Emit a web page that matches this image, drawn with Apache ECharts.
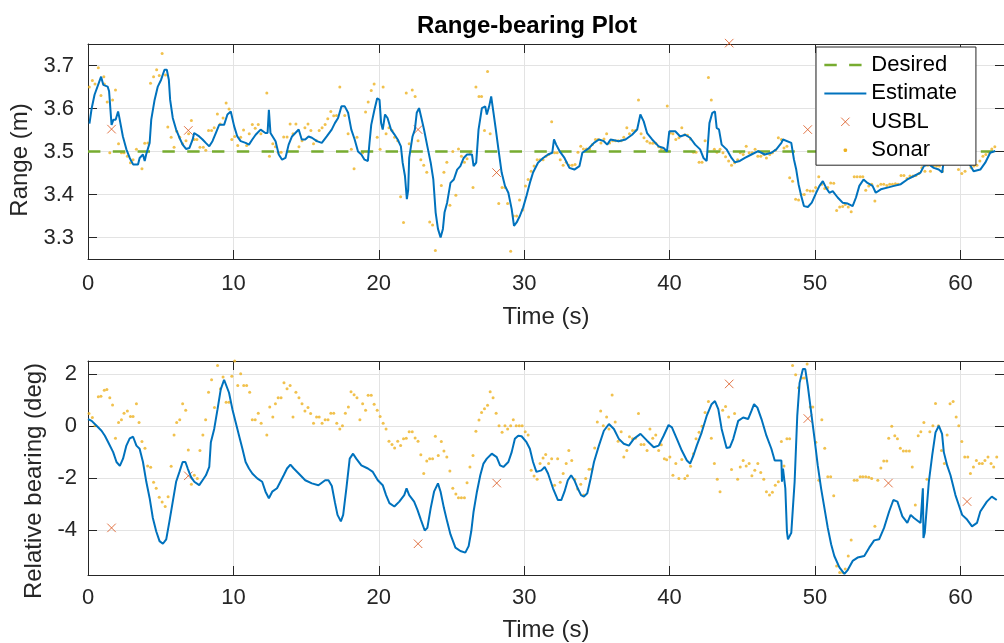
<!DOCTYPE html>
<html><head><meta charset="utf-8">
<script src="https://cdn.jsdelivr.net/npm/echarts@6/dist/echarts.min.js"></script>
<style>html,body{margin:0;padding:0;background:#fff}#c{width:1004px;height:643px}</style>
</head><body><div id="c"></div><script>
// ---------- data ----------
const titleText = 'Range-bearing Plot';
const xLabel = 'Time (s)';
const rangeLabel = 'Range (m)';
const bearingLabel = 'Relative bearing (deg)';
const seriesNames = ['Desired', 'Estimate', 'USBL', 'Sonar'];
const timeRange = [0, 63];
const rangeLimits = [3.25, 3.75];
const bearingLimits = [-5.72, 2.5];
const desiredRange = 3.5;

const rangeEstimate = [[0.1,3.565],[0.25,3.6],[0.45,3.632],[0.9,3.674],[1.05,3.655],[1.35,3.651],[1.45,3.64],[1.62,3.562],[1.75,3.574],[1.9,3.574],[2.07,3.593],[2.15,3.58],[2.4,3.535],[2.64,3.505],[2.87,3.485],[3.1,3.47],[3.44,3.47],[3.55,3.485],[3.78,3.493],[3.9,3.478],[4.0,3.493],[4.24,3.52],[4.35,3.574],[4.58,3.62],[4.8,3.651],[5.03,3.667],[5.26,3.69],[5.42,3.69],[5.56,3.667],[5.65,3.62],[5.83,3.578],[6.06,3.551],[6.29,3.532],[6.51,3.516],[6.74,3.506],[6.97,3.508],[7.2,3.528],[7.3,3.543],[7.65,3.535],[7.88,3.528],[8.1,3.52],[8.34,3.512],[8.56,3.524],[8.79,3.543],[9.02,3.562],[9.36,3.562],[9.59,3.586],[9.82,3.593],[9.93,3.59],[10.05,3.559],[10.27,3.535],[10.5,3.524],[10.84,3.52],[11.07,3.516],[11.3,3.528],[11.53,3.539],[11.87,3.551],[12.2,3.543],[12.35,3.543],[12.44,3.597],[12.52,3.597],[12.55,3.543],[12.9,3.524],[13.12,3.493],[13.35,3.481],[13.58,3.485],[13.8,3.516],[14.03,3.535],[14.49,3.551],[14.7,3.528],[14.94,3.528],[15.17,3.535],[15.4,3.532],[15.74,3.524],[16.08,3.52],[16.42,3.535],[16.76,3.551],[16.98,3.566],[17.2,3.578],[17.43,3.605],[17.66,3.605],[17.89,3.59],[18.11,3.551],[18.34,3.528],[18.57,3.5],[18.8,3.493],[19.02,3.481],[19.25,3.478],[19.36,3.52],[19.48,3.562],[19.7,3.597],[19.89,3.624],[20.05,3.62],[20.16,3.566],[20.27,3.551],[20.43,3.586],[20.6,3.578],[20.84,3.551],[21.07,3.54],[21.3,3.528],[21.52,3.512],[21.64,3.474],[21.8,3.443],[21.93,3.389],[22.02,3.41],[22.09,3.485],[22.32,3.535],[22.48,3.551],[22.61,3.59],[22.77,3.601],[22.93,3.578],[23.11,3.551],[23.34,3.512],[23.57,3.474],[23.75,3.435],[23.91,3.358],[24.07,3.32],[24.25,3.3],[24.41,3.32],[24.52,3.358],[24.7,3.381],[24.93,3.427],[25.16,3.435],[25.39,3.458],[25.61,3.466],[25.84,3.485],[26.07,3.493],[26.41,3.493],[26.52,3.466],[26.7,3.474],[26.86,3.551],[27.09,3.601],[27.32,3.605],[27.43,3.586],[27.59,3.605],[27.73,3.628],[27.89,3.59],[28.05,3.551],[28.23,3.505],[28.45,3.451],[28.68,3.42],[28.91,3.404],[29.14,3.366],[29.3,3.327],[29.48,3.335],[29.7,3.35],[29.93,3.37],[30.16,3.397],[30.39,3.427],[30.61,3.451],[30.95,3.474],[31.3,3.485],[31.64,3.493],[31.93,3.497],[32.05,3.528],[32.2,3.516],[32.43,3.501],[32.77,3.485],[33.11,3.462],[33.45,3.458],[33.8,3.466],[34.0,3.497],[34.46,3.508],[34.8,3.52],[35.14,3.528],[35.48,3.524],[35.71,3.516],[35.94,3.528],[36.5,3.524],[36.97,3.528],[37.42,3.539],[37.77,3.551],[37.99,3.586],[38.22,3.57],[38.45,3.543],[38.8,3.528],[39.25,3.512],[39.59,3.508],[39.82,3.5],[39.98,3.547],[40.39,3.547],[40.73,3.535],[41.07,3.539],[41.41,3.532],[41.76,3.516],[42.1,3.505],[42.33,3.485],[42.55,3.478],[42.74,3.566],[42.94,3.59],[43.12,3.593],[43.24,3.555],[43.4,3.551],[43.58,3.516],[43.92,3.505],[44.26,3.485],[44.49,3.475],[44.83,3.478],[45.18,3.485],[45.63,3.493],[46.09,3.501],[46.55,3.493],[47.0,3.497],[47.34,3.505],[47.69,3.52],[47.8,3.528],[48.37,3.52],[48.55,3.482],[48.71,3.458],[48.87,3.424],[49.05,3.397],[49.24,3.373],[49.51,3.371],[49.78,3.381],[50.08,3.404],[50.31,3.42],[50.54,3.431],[50.76,3.416],[50.99,3.404],[51.22,3.408],[51.56,3.393],[51.9,3.381],[52.25,3.379],[52.59,3.373],[52.82,3.393],[53.05,3.42],[53.34,3.435],[53.61,3.427],[53.96,3.42],[54.18,3.404],[54.53,3.412],[54.98,3.416],[55.44,3.42],[55.9,3.424],[56.35,3.435],[56.81,3.443],[57.26,3.451],[57.49,3.466],[57.83,3.47],[58.17,3.462],[58.51,3.458],[58.75,3.451],[58.86,3.48],[59.5,3.49],[60.2,3.49],[60.57,3.474],[60.91,3.454],[61.37,3.458],[61.71,3.474],[62.05,3.497],[62.4,3.501]];

const rangeUsbl = [[1.62,3.552],[6.9,3.549],[22.7,3.551],[28.1,3.451],[44.1,3.752],[49.5,3.551],[55.05,3.62],[60.5,3.651]];

const rangeSonar = [[0.09,3.65],[0.3,3.665],[0.48,3.657],[0.71,3.695],[0.89,3.63],[1.09,3.674],[1.12,3.657],[1.32,3.615],[1.5,3.497],[1.69,3.62],[1.89,3.643],[2.1,3.518],[2.3,3.497],[2.48,3.497],[2.71,3.489],[2.92,3.474],[3.1,3.481],[3.33,3.505],[3.71,3.46],[3.9,3.519],[4.12,3.52],[4.3,3.659],[4.51,3.674],[4.72,3.69],[4.9,3.677],[5.1,3.728],[5.33,3.678],[5.49,3.557],[5.72,3.533],[5.92,3.51],[6.1,3.547],[6.31,3.533],[6.51,3.518],[6.74,3.525],[6.92,3.541],[7.11,3.572],[7.31,3.528],[7.49,3.528],[7.7,3.51],[7.93,3.51],[8.1,3.503],[8.29,3.549],[8.5,3.549],[8.68,3.555],[8.9,3.587],[9.09,3.564],[9.29,3.578],[9.5,3.613],[9.7,3.599],[9.89,3.528],[10.09,3.535],[10.3,3.514],[10.5,3.533],[10.7,3.55],[10.91,3.514],[11.09,3.541],[11.3,3.563],[11.5,3.554],[11.71,3.563],[11.89,3.541],[12.3,3.636],[12.48,3.489],[12.71,3.518],[12.89,3.511],[13.08,3.498],[13.28,3.498],[13.46,3.534],[13.69,3.534],[13.9,3.564],[14.1,3.541],[14.3,3.564],[14.51,3.511],[14.72,3.525],[14.92,3.555],[15.13,3.564],[15.33,3.549],[15.51,3.518],[15.72,3.525],[15.9,3.549],[16.1,3.555],[16.31,3.563],[16.49,3.576],[16.7,3.593],[16.9,3.583],[17.09,3.584],[17.32,3.65],[17.66,3.584],[17.89,3.541],[18.11,3.505],[18.3,3.46],[18.5,3.533],[18.89,3.497],[19.09,3.592],[19.27,3.615],[19.48,3.642],[19.68,3.657],[19.89,3.533],[20.09,3.505],[20.3,3.65],[20.5,3.541],[20.7,3.555],[20.91,3.549],[21.09,3.533],[21.3,3.525],[21.5,3.395],[21.7,3.335],[21.89,3.636],[22.09,3.518],[22.3,3.643],[22.5,3.628],[22.7,3.525],[22.89,3.481],[23.09,3.468],[23.3,3.452],[23.5,3.336],[23.7,3.329],[23.89,3.27],[24.3,3.421],[24.48,3.452],[24.68,3.475],[24.89,3.375],[25.09,3.5],[25.3,3.398],[25.48,3.506],[25.68,3.489],[25.89,3.475],[26.07,3.483],[26.27,3.497],[26.48,3.416],[26.68,3.65],[26.89,3.628],[27.07,3.628],[27.27,3.549],[27.48,3.686],[27.66,3.541],[28.25,3.379],[28.48,3.416],[28.68,3.416],[28.86,3.379],[29.07,3.268],[29.25,3.35],[29.48,3.35],[29.68,3.387],[29.89,3.364],[30.09,3.42],[30.27,3.435],[30.48,3.454],[30.68,3.466],[30.89,3.481],[31.09,3.481],[31.3,3.481],[31.5,3.489],[31.68,3.493],[31.89,3.569],[32.09,3.497],[32.27,3.497],[32.48,3.481],[32.68,3.468],[32.89,3.475],[33.09,3.468],[33.3,3.468],[33.5,3.47],[33.7,3.498],[33.89,3.512],[34.07,3.506],[34.28,3.506],[34.5,3.506],[34.69,3.516],[34.9,3.528],[35.08,3.528],[35.28,3.52],[35.49,3.529],[35.67,3.541],[35.87,3.52],[36.08,3.525],[36.28,3.525],[36.47,3.525],[36.67,3.525],[36.85,3.533],[37.06,3.555],[37.24,3.541],[37.45,3.549],[37.65,3.549],[37.86,3.62],[38.04,3.541],[38.24,3.532],[38.45,3.524],[38.65,3.52],[38.84,3.519],[39.05,3.519],[39.25,3.511],[39.43,3.505],[39.64,3.501],[39.84,3.606],[40.05,3.543],[40.23,3.541],[40.43,3.528],[40.64,3.532],[40.84,3.555],[41.05,3.539],[41.23,3.538],[41.44,3.529],[41.64,3.498],[41.82,3.498],[42.03,3.475],[42.23,3.475],[42.44,3.525],[42.67,3.672],[42.87,3.62],[43.08,3.505],[43.26,3.498],[43.47,3.505],[43.67,3.497],[43.85,3.488],[44.06,3.478],[44.26,3.468],[44.47,3.474],[44.68,3.481],[44.86,3.497],[45.06,3.493],[45.27,3.512],[45.47,3.497],[45.68,3.497],[45.88,3.505],[46.07,3.489],[46.27,3.489],[46.48,3.493],[46.66,3.485],[46.89,3.493],[47.07,3.497],[47.27,3.503],[47.48,3.532],[47.69,3.528],[47.87,3.508],[48.07,3.512],[48.26,3.439],[48.46,3.431],[48.67,3.389],[48.87,3.387],[49.05,3.4],[49.26,3.4],[49.46,3.41],[49.67,3.408],[49.87,3.408],[50.05,3.416],[50.26,3.441],[50.47,3.424],[50.67,3.414],[50.88,3.416],[51.08,3.427],[51.29,3.426],[51.49,3.363],[51.7,3.371],[51.9,3.372],[52.08,3.377],[52.29,3.371],[52.49,3.36],[52.7,3.441],[52.9,3.441],[53.11,3.441],[53.29,3.441],[53.49,3.41],[53.7,3.42],[53.9,3.424],[54.12,3.385],[54.32,3.42],[54.53,3.424],[54.73,3.424],[54.94,3.421],[55.14,3.424],[55.33,3.424],[55.53,3.425],[55.71,3.424],[55.92,3.444],[56.12,3.444],[56.33,3.437],[56.53,3.443],[56.74,3.443],[56.94,3.444],[57.15,3.449],[57.35,3.462],[57.56,3.454],[57.76,3.468],[57.94,3.454],[58.15,3.466],[58.36,3.466],[58.56,3.466],[58.76,3.454],[58.97,3.48],[59.17,3.49],[59.38,3.49],[59.6,3.48],[59.87,3.458],[60.1,3.449],[60.32,3.454],[60.52,3.474],[60.73,3.462],[60.93,3.466],[61.14,3.468],[61.34,3.478],[61.55,3.489],[61.75,3.493],[61.96,3.498],[62.16,3.506],[62.37,3.511]];

const bearingEstimate = [[0,0.27],[0.25,0.2],[0.59,0.01],[0.93,-0.18],[1.16,-0.37],[1.39,-0.62],[1.73,-1.0],[1.96,-1.38],[2.19,-1.53],[2.41,-1.25],[2.64,-0.75],[2.87,-0.47],[3.1,-0.41],[3.33,-0.75],[3.55,-0.87],[3.78,-1.38],[4.01,-2.14],[4.24,-2.77],[4.46,-3.53],[4.69,-4.04],[4.92,-4.42],[5.15,-4.52],[5.38,-4.35],[5.6,-3.66],[5.83,-2.9],[6.06,-2.14],[6.29,-1.76],[6.51,-1.38],[6.7,-1.38],[6.86,-1.63],[7.08,-1.95],[7.31,-2.14],[7.65,-2.27],[7.88,-2.08],[8.11,-1.89],[8.34,-1.57],[8.45,-0.62],[8.68,-0.11],[8.91,0.65],[9.13,1.41],[9.36,1.78],[9.48,1.85],[9.7,1.28],[9.93,0.65],[10.16,0.14],[10.39,-0.37],[10.62,-0.87],[10.84,-1.38],[11.07,-1.63],[11.3,-1.82],[11.64,-2.01],[11.98,-2.14],[12.21,-2.52],[12.44,-2.77],[12.67,-2.52],[13.0,-2.39],[13.23,-2.14],[13.46,-1.89],[13.69,-1.63],[13.92,-1.48],[14.15,-1.63],[14.49,-1.82],[14.94,-2.08],[15.4,-2.2],[15.85,-2.27],[16.31,-2.08],[16.54,-2.08],[16.77,-2.3],[16.99,-2.95],[17.16,-3.41],[17.39,-3.66],[17.55,-3.41],[17.77,-2.39],[18.0,-1.25],[18.23,-1.06],[18.45,-1.25],[18.8,-1.51],[19.25,-1.63],[19.59,-1.76],[19.93,-2.08],[20.27,-2.27],[20.5,-2.65],[20.73,-2.96],[21.07,-3.09],[21.41,-2.9],[21.75,-2.65],[21.91,-2.39],[22.09,-2.65],[22.43,-2.9],[22.66,-3.22],[22.89,-3.59],[23.16,-4.01],[23.34,-3.91],[23.57,-3.15],[23.8,-2.52],[24.07,-2.2],[24.25,-2.52],[24.48,-3.15],[24.7,-3.66],[24.93,-4.16],[25.27,-4.67],[25.61,-4.8],[25.95,-4.86],[26.18,-4.61],[26.36,-4.04],[26.52,-3.28],[26.75,-2.52],[26.98,-1.89],[27.2,-1.44],[27.43,-1.25],[27.77,-1.06],[28.11,-1.19],[28.34,-1.51],[28.57,-1.57],[28.91,-1.38],[29.14,-1.0],[29.36,-0.49],[29.59,-0.37],[29.82,-0.39],[30.16,-0.62],[30.39,-0.87],[30.61,-1.38],[30.84,-1.76],[31.18,-1.7],[31.41,-1.57],[31.64,-1.82],[31.98,-2.39],[32.32,-2.84],[32.55,-2.84],[32.77,-2.52],[33.0,-2.08],[33.23,-1.89],[33.45,-2.08],[33.68,-2.39],[33.91,-2.65],[34.11,-2.71],[34.34,-2.58],[34.57,-2.01],[34.8,-1.38],[35.14,-0.75],[35.48,-0.18],[35.83,0.08],[36.17,-0.11],[36.51,-0.49],[36.85,-0.68],[37.2,-0.75],[37.54,-0.49],[38.0,-0.3],[38.45,-0.56],[38.91,-0.81],[39.25,-0.75],[39.59,-0.37],[39.93,0.04],[40.16,-0.05],[40.5,-0.49],[40.84,-0.94],[41.19,-1.32],[41.41,-1.44],[41.64,-1.13],[41.87,-0.75],[42.21,-0.24],[42.55,0.39],[42.89,0.84],[43.12,0.96],[43.35,0.65],[43.58,-0.11],[43.92,-0.84],[44.15,-0.81],[44.38,-0.49],[44.72,0.2],[45.06,0.33],[45.4,0.27],[45.63,0.58],[45.81,0.84],[46.04,0.71],[46.32,0.27],[46.66,-0.37],[47.0,-0.87],[47.23,-1.32],[47.69,-1.32],[47.73,-2.14],[47.8,-1.63],[47.87,-1.63],[47.96,-2.39],[48.07,-4.04],[48.14,-4.35],[48.37,-4.1],[48.48,-3.15],[48.6,-2.14],[48.78,0.39],[48.94,1.66],[49.17,2.19],[49.33,2.19],[49.51,1.53],[49.74,0.52],[49.97,-0.49],[50.19,-1.51],[50.42,-2.39],[50.65,-3.15],[50.88,-3.91],[51.11,-4.54],[51.33,-4.99],[51.68,-5.43],[52.02,-5.68],[52.25,-5.53],[52.59,-5.18],[52.93,-5.05],[53.39,-4.99],[53.73,-4.67],[54.07,-4.39],[54.41,-4.35],[54.75,-3.91],[55.1,-3.28],[55.39,-2.84],[55.67,-2.9],[56.01,-3.47],[56.35,-3.72],[56.58,-3.41],[56.81,-3.53],[57.26,-3.72],[57.38,-3.72],[57.42,-2.39],[57.46,-4.3],[57.55,-4.1],[57.83,-2.14],[58.06,-1.13],[58.29,-0.24],[58.52,0.01],[58.74,-0.3],[58.86,-1.0],[59.09,-1.51],[59.32,-1.89],[59.66,-2.65],[59.89,-3.03],[60.12,-3.41],[60.46,-3.59],[60.8,-3.85],[61.14,-3.72],[61.37,-3.28],[61.82,-2.9],[62.16,-2.71],[62.5,-2.84]];

const bearingUsbl = [[1.62,-3.91],[6.9,-1.91],[22.7,-4.52],[28.11,-2.19],[44.1,1.62],[49.51,0.29],[55.05,-2.19],[60.46,-2.9]];

const bearingSonar = [[0.07,0.48],[0.3,0.33],[0.48,0.01],[0.71,1.13],[0.89,1.15],[1.12,1.38],[1.3,1.41],[1.5,1.09],[1.69,0.81],[1.89,-0.47],[2.1,0.14],[2.3,0.24],[2.48,0.49],[2.71,0.58],[2.92,0.37],[3.1,0.37],[3.33,0.86],[3.51,0.14],[3.71,-0.59],[3.92,-0.85],[4.1,-1.53],[4.31,-1.58],[4.51,-2.16],[4.69,-2.39],[4.9,-2.73],[5.1,-2.92],[5.31,-3.09],[5.51,-2.71],[5.72,-1.54],[5.92,-0.34],[6.1,0.14],[6.31,0.24],[6.51,0.86],[6.72,0.61],[6.9,-0.92],[7.11,-2.23],[7.31,-1.89],[7.52,-2.01],[7.7,-0.94],[7.9,-0.34],[8.09,0.24],[8.29,1.3],[8.5,1.78],[8.7,0.71],[8.91,2.33],[9.11,1.43],[9.29,1.89],[9.5,0.92],[9.7,0.92],[9.89,1.91],[10.09,2.5],[10.3,1.56],[10.5,2.01],[10.71,1.56],[10.91,1.56],[11.12,1.3],[11.3,0.24],[11.5,0.24],[11.71,0.49],[11.91,0.11],[12.3,-0.34],[12.5,0.73],[12.71,0.35],[12.89,0.86],[13.08,1.09],[13.28,1.09],[13.48,1.66],[13.69,1.43],[13.9,1.56],[14.1,0.35],[14.3,1.3],[14.51,1.09],[14.72,0.86],[14.92,0.58],[15.13,0.71],[15.31,0.48],[15.51,0.11],[15.72,0.35],[15.9,0.35],[16.1,0.11],[16.31,0.24],[16.51,0.24],[16.7,0.49],[16.9,0.49],[17.11,0.11],[17.32,-0.11],[17.5,0.01],[17.7,0.49],[17.91,0.73],[18.09,1.32],[18.3,1.2],[18.5,1.09],[18.7,0.24],[18.89,0.86],[19.09,0.61],[19.27,1.18],[19.48,1.18],[19.68,0.84],[19.89,0.61],[20.09,0.37],[20.3,0.11],[20.5,-0.11],[20.7,-0.58],[20.91,-0.71],[21.09,-0.84],[21.3,-0.58],[21.5,-0.75],[21.7,-0.49],[21.89,-0.47],[22.09,-0.22],[22.3,-0.22],[22.5,-0.46],[22.7,-0.58],[22.89,-1.1],[23.09,-1.82],[23.3,-1.34],[23.5,-1.25],[23.7,-1.25],[23.89,-0.39],[24.09,-1.13],[24.3,-0.59],[24.48,-0.96],[24.68,-1.19],[24.89,-1.73],[25.09,-2.39],[25.3,-2.61],[25.48,-2.75],[25.68,-2.75],[25.89,-2.75],[26.07,-2.18],[26.27,-1.57],[26.48,-1.13],[26.68,-0.2],[26.89,0.23],[27.07,0.52],[27.27,0.67],[27.48,0.8],[27.66,1.32],[27.86,1.09],[28.07,0.49],[28.27,0.01],[28.48,-0.24],[28.68,0.01],[28.86,-0.11],[29.07,0.01],[29.25,0.24],[29.45,0.01],[29.66,0.01],[29.86,0.01],[30.07,-0.22],[30.27,-0.34],[30.48,-1.7],[30.68,-1.92],[30.89,-2.04],[31.09,-1.44],[31.3,-1.23],[31.48,-1.09],[31.68,-1.44],[31.89,-1.25],[32.09,-2.27],[32.3,-1.25],[32.48,-2.16],[32.68,-1.82],[32.89,-1.44],[33.07,-0.94],[33.27,-1.32],[33.48,-2.04],[33.68,-2.42],[33.89,-2.23],[34.09,-2.65],[34.23,-2.01],[34.46,-1.66],[34.64,-1.66],[34.85,-0.84],[35.03,0.16],[35.26,0.58],[35.44,0.01],[35.67,0.35],[35.83,-0.11],[36.05,1.19],[36.26,0.16],[36.46,-0.58],[36.67,-0.22],[36.85,-1.19],[37.06,-0.94],[37.24,-0.41],[37.45,-0.49],[37.65,-0.47],[37.86,0.48],[38.04,-0.71],[38.24,-0.71],[38.45,-0.94],[38.65,-0.11],[38.84,-0.47],[39.05,-0.34],[39.25,-0.94],[39.43,-0.72],[39.64,-1.25],[39.8,-1.29],[40.02,-1.19],[40.23,-1.89],[40.43,-1.44],[40.64,-2.01],[40.84,-1.28],[41.05,-2.01],[41.23,-1.91],[41.44,-1.54],[41.64,-1.06],[41.82,-0.49],[42.03,-0.24],[42.23,-0.01],[42.44,0.52],[42.67,0.94],[42.87,-0.47],[43.08,-1.44],[43.28,-2.04],[43.47,-2.52],[43.65,0.61],[43.85,0.75],[44.06,0.35],[44.26,-1.67],[44.47,0.48],[44.68,-2.04],[44.86,-1.57],[45.06,-1.32],[45.27,-1.53],[45.47,-1.44],[45.66,-1.91],[45.86,-1.7],[46.07,-1.44],[46.27,-1.78],[46.48,-2.04],[46.66,-2.52],[46.87,-2.65],[47.07,-2.54],[47.27,-2.27],[47.48,-2.14],[47.69,-0.59],[47.87,-1.53],[48.07,-0.49],[48.26,-0.49],[48.46,2.33],[48.67,1.97],[48.87,1.47],[49.08,1.85],[49.26,1.85],[49.46,2.38],[49.67,0.73],[49.85,0.73],[50.06,-0.62],[50.26,-2.08],[50.47,0.24],[50.67,-0.85],[50.88,-1.95],[51.08,-1.95],[51.29,-2.68],[51.49,-5.37],[51.7,-5.62],[51.9,-5.62],[52.08,-5.49],[52.29,-4.99],[52.49,-4.38],[52.7,-2.08],[52.9,-2.08],[53.11,-1.95],[53.29,-1.95],[53.49,-1.95],[53.7,-1.97],[53.9,-2.01],[54.12,-3.85],[54.32,-2.08],[54.53,-1.61],[54.73,-1.34],[54.94,-1.34],[55.07,-0.47],[55.28,-0.01],[55.49,-0.37],[55.67,-0.49],[55.87,-0.85],[56.08,-0.96],[56.28,-0.96],[56.49,-0.96],[56.69,-1.57],[56.9,-3.03],[57.1,-0.37],[57.28,-0.22],[57.49,0.14],[57.7,-2.04],[57.9,-0.22],[58.11,0.01],[58.29,0.87],[58.49,0.01],[58.7,-0.94],[58.9,-1.44],[59.09,-0.34],[59.29,0.86],[59.5,0.94],[59.71,0.35],[59.89,0.01],[60.1,-0.59],[60.3,-1.19],[60.51,-1.19],[60.69,-1.82],[60.9,-1.57],[61.1,-1.32],[61.3,-1.44],[61.51,-1.44],[61.69,-1.32],[61.9,-1.19],[62.11,-1.44],[62.29,-1.57],[62.5,-1.19]];

// ---------- style ----------
const FONT = '"Liberation Sans", Arial, Helvetica, sans-serif';
const AX = '#262626';
const GRIDC = '#e3e3e3';
const C_DES = '#77AC30', C_EST = '#0072BD', C_USBL = '#D95319', C_SON = '#EDB120';
const CROSS = 'path://M0,0L10,10M10,0L0,10';
const DASH = [12.4, 12.4];

function xPair(g, margin, nameGap) {
  const base = {type:'value', gridIndex:g, min:timeRange[0], max:timeRange[1], interval:10,
    axisLine:{show:true, onZero:false, lineStyle:{color:AX, width:1}},
    axisTick:{show:true, inside:true, length:9, lineStyle:{color:AX}}};
  return [
    Object.assign({}, base, {position:'bottom',
      axisLabel:{show:true, color:AX, fontSize:22, fontFamily:FONT, margin:margin, showMaxLabel:false,
        formatter: v => (Math.abs(v % 10) < 1e-9 ? String(v) : '')},
      splitLine:{show:true, lineStyle:{color:GRIDC, width:1}},
      name:xLabel, nameLocation:'middle', nameGap:nameGap,
      nameTextStyle:{color:AX, fontSize:24, fontFamily:FONT}}),
    Object.assign({}, base, {position:'top', axisLabel:{show:false}, splitLine:{show:false}})
  ];
}
function yPair(g, lim, margin, name, nameGap, shift, fmt) {
  const base = {type:'value', gridIndex:g, min:lim[0], max:lim[1],
    axisLine:{show:true, onZero:false, lineStyle:{color:AX, width:1}},
    axisTick:{show:true, inside:true, length:9, lineStyle:{color:AX}}};
  return [
    Object.assign({}, base, {position:'left',
      axisLabel:{show:true, color:AX, fontSize:22, fontFamily:FONT, margin:margin,
        showMinLabel:false, showMaxLabel:false, formatter: fmt},
      splitLine:{show:true, lineStyle:{color:GRIDC, width:1}},
      name:name, nameLocation:'middle', nameGap:nameGap,
      nameTextStyle:{color:AX, fontSize:24, fontFamily:FONT, padding:[0, shift, 0, 0]}}),
    Object.assign({}, base, {position:'right', axisLabel:{show:false}, splitLine:{show:false}})
  ];
}
const fmtRange = v => (Math.abs(v*10 - Math.round(v*10)) < 1e-6 ? v.toFixed(1) : '');
const fmtBearing = v => (Math.abs(v/2 - Math.round(v/2)) < 1e-6 ? String(Math.round(v)) : '');

function groupSeries(xi, yi, est, usbl, sonar, desired) {
  const out = [];
  if (desired !== null) {
    out.push({name:seriesNames[0], type:'line', xAxisIndex:xi, yAxisIndex:yi,
      data:[[timeRange[0], desired],[timeRange[1], desired]], symbol:'none', silent:true,
      lineStyle:{color:C_DES, width:2.7, type:DASH}, itemStyle:{color:C_DES}});
  }
  out.push({name:seriesNames[1], type:'line', xAxisIndex:xi, yAxisIndex:yi, data:est,
    symbol:'none', silent:true, lineStyle:{color:C_EST, width:2}, itemStyle:{color:C_EST}});
  out.push({name:seriesNames[2], type:'scatter', xAxisIndex:xi, yAxisIndex:yi, data:usbl,
    symbol:CROSS, symbolSize:8.5, clip:false, silent:true,
    itemStyle:{color:'none', borderColor:C_USBL, borderWidth:1}});
  out.push({name:seriesNames[3], type:'scatter', xAxisIndex:xi, yAxisIndex:yi, data:sonar,
    symbol:'circle', symbolSize:3, silent:true, itemStyle:{color:C_SON}});
  return out;
}

const hiddenSym = {opacity:0, color:'transparent', borderWidth:0};
const chart = echarts.init(document.getElementById('c'), null, {renderer:'canvas'});
chart.setOption({
  animation:false,
  backgroundColor:'#fff',
  title:{text:titleText, left:412, top:9,
    textStyle:{fontSize:24, fontWeight:'bold', fontFamily:FONT, color:'#000'}},
  legend:{orient:'vertical', left:816, top:47, backgroundColor:'#fff', borderColor:AX, borderWidth:1,
    padding:[4,19,1,7], itemWidth:42, itemHeight:22, itemGap:0.4, selectedMode:false, z:10,
    textStyle:{fontSize:22, fontFamily:FONT, color:'#000', lineHeight:28},
    itemStyle:{borderWidth:'inherit'},
    data:[{name:seriesNames[0], itemStyle:hiddenSym, lineStyle:{type:DASH, width:2.7, color:C_DES}},
      {name:seriesNames[1], itemStyle:hiddenSym, lineStyle:{type:'solid', width:2, color:C_EST}},
      {name:seriesNames[2], icon:'path://M0,0M100,100M31,31L69,69M69,31L31,69'},
      {name:seriesNames[3], icon:'path://M0,0M100,100M42,46L46,42L54,42L58,46L58,54L54,58L46,58L42,54Z',
        itemStyle:{color:C_SON, opacity:1}}]},
  grid:[{left:88, top:44, width:923, height:215},{left:88, top:361, width:923, height:217}],
  xAxis:[...xPair(0, 14, 46), ...xPair(1, 12, 43)],
  yAxis:[...yPair(0, rangeLimits, 14, rangeLabel, 55, 17, fmtRange),
         ...yPair(1, bearingLimits, 11, bearingLabel, 36, 26, fmtBearing)],
  series:[...groupSeries(0, 0, rangeEstimate, rangeUsbl, rangeSonar, desiredRange),
          ...groupSeries(2, 2, bearingEstimate, bearingUsbl, bearingSonar, null)]
});
</script></body></html>
